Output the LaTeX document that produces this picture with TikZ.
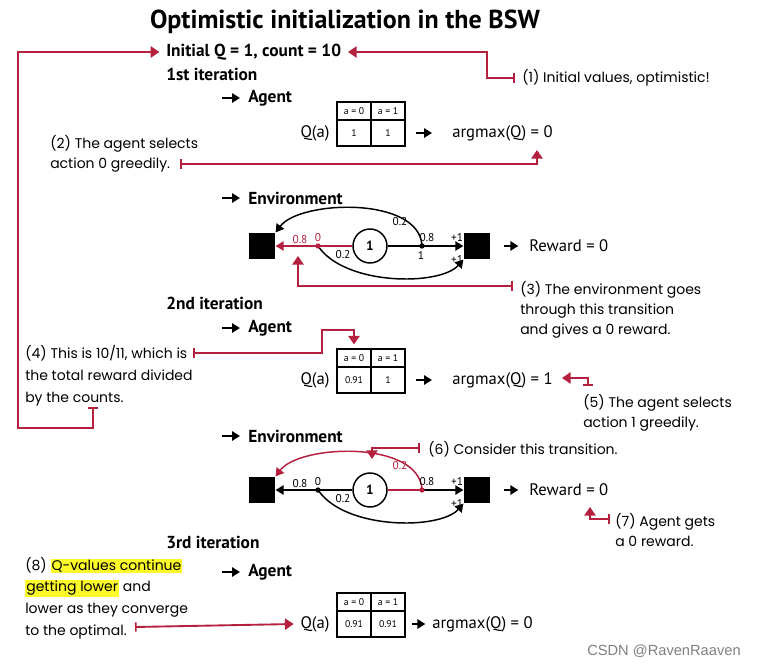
\documentclass[tikz,border=0pt]{standalone}
\usepackage{fontspec}
\setmainfont{PT Sans}
\newfontfamily\handfont{Poppins}
\newfontfamily\creditfont{Liberation Sans}
\usetikzlibrary{arrows.meta,calc}
\definecolor{callred}{RGB}{180,32,62}
\definecolor{marker}{RGB}{252,250,40}
\newcommand\marked[1]{{\setlength{\fboxsep}{0.8pt}\colorbox{marker}{#1}}}

\begin{document}
\begin{tikzpicture}[x=0.75pt,y=-0.75pt,
  title/.style={font=\bfseries\fontsize{19.5}{21}\selectfont, inner sep=0pt},
  head/.style={font=\bfseries\fontsize{13}{15}\selectfont, anchor=west, inner sep=0pt},
  plain/.style={font=\fontsize{12.5}{14}\selectfont, inner sep=0pt},
  note/.style={font=\handfont\fontsize{10.5}{15}\selectfont, align=left, anchor=north west, inner sep=0pt},
  callout/.style={draw=callred, line width=1.4pt, {Bar[width=7pt,line width=1.2pt]}-{Triangle[width=8.5pt,length=6.5pt]}},
  headarrow/.style={line width=1.5pt, -{Triangle[width=7pt,length=6pt]}},
  cell/.style={draw, line width=0.8pt, minimum width=25.5pt, inner sep=0pt, font=\fontsize{7.3}{8}\selectfont},
  hcell/.style={cell, minimum height=13.5pt},
  bcell/.style={cell, minimum height=19.5pt},
  term/.style={fill=black, minimum size=20pt, inner sep=0pt},
  state/.style={draw, circle, line width=1.1pt, minimum size=25.5pt, inner sep=0pt, font=\bfseries\fontsize{10}{10}\selectfont},
  lbl/.style={font=\fontsize{8.5}{9}\selectfont, inner sep=0.5pt},
  dot/.style={circle, fill, inner sep=0pt, minimum size=4pt},
  edge/.style={line width=1.1pt, -{Triangle[width=7pt,length=6pt]}},
  pics/qtab/.style 2 args={code={
    \node[hcell] (-h0) at (17,9) {a = 0};
    \node[hcell] (-h1) at (51,9) {a = 1};
    \node[bcell] (-b0) at (17,31) {#1};
    \node[bcell] (-b1) at (51,31) {#2};
  }}
]
\useasboundingbox (0,0) rectangle (758,668);

% ---------- headings ----------
\node[title] (title) at (345,22) {Optimistic initialization in the BSW};
\node[head] (init) at (166,52) {Initial Q = 1, count = 10};
\node[head] (it1) at (166,74) {1st iteration};
\node[head] (agent1) at (248,98) {Agent};
\node[head] (envh1) at (248,198) {Environment};
\node[head] (it2) at (166,303) {2nd iteration};
\node[head] (agent2) at (248,328) {Agent};
\node[head] (envh2) at (248,436) {Environment};
\node[head] (it3) at (166,542) {3rd iteration};
\node[head] (agent3) at (248,572) {Agent};
\foreach \h in {agent1,envh1,agent2,envh2,agent3}
  \draw[headarrow] ([xshift=-19.5pt]\h.west) -- ([xshift=-6pt]\h.west);

% ---------- agent tables ----------
\pic (t1) at (337,102) {qtab={1}{1}};
\pic (t2) at (337,349) {qtab={0.91}{1}};
\pic (t3) at (337,593) {qtab={0.91}{0.91}};
\foreach \t in {1,2,3}
  \node[plain, anchor=east] (qa\t) at ([xshift=-5pt]t\t-b0.west) {Q(a)};
\node[plain, anchor=west] (am1) at (452,133) {argmax(Q) = 0};
\node[plain, anchor=west] (am2) at (452,380) {argmax(Q) = 1};
\node[plain, anchor=west] (am3) at (432,624) {argmax(Q) = 0};
\draw[headarrow, shorten <=7.5pt, shorten >=15pt] (t1-b1.east) -- (am1.west);
\draw[headarrow, shorten <=7.5pt, shorten >=15pt] (t2-b1.east) -- (am2.west);
\draw[headarrow, shorten <=4.5pt, shorten >=5pt] (t3-b1.east) -- (am3.west);

% ---------- environment, 1st iteration ----------
\node[term] (sqL1) at (262,246) {};
\node[term] (sqR1) at (477,246) {};
\node[state] (s1) at (370,246) {1};
\coordinate (dL1) at (318,246);
\coordinate (dR1) at (422,246);
\draw[edge, callred] (s1) -- (sqL1);
\draw[edge] (s1) -- (sqR1);
\draw[edge] (dR1) .. controls (420,196) and (300,200) .. (sqL1.north east);
\draw[edge] (dL1) .. controls (345,286) and (440,286) .. (sqR1.south west);
\node[dot, callred] (pL1) at (dL1) {};
\node[dot] (pR1) at (dR1) {};
\node[lbl, callred] (l1a) at (300,240) {0.8};
\node[lbl, callred] (l1b) at (318,238) {0};
\node[lbl] (l1c) at (343,255) {0.2};
\node[lbl] (l1d) at (427,238) {0.8};
\node[lbl] (l1e) at (421,255) {1};
\node[lbl] (l1f) at (400,222) {0.2};
\node[lbl] (l1g) at (457,237) {+1};
\node[lbl] (l1h) at (457,259) {+1};
\node[plain, anchor=west] (rw1) at (529,246) {Reward = 0};
\draw[headarrow, shorten <=10pt, shorten >=8pt] (sqR1.east) -- (rw1.west);

% ---------- environment, 2nd iteration ----------
\node[term] (sqL2) at (262,490) {};
\node[term] (sqR2) at (477,490) {};
\node[state] (s2) at (370,490) {1};
\coordinate (dL2) at (318,490);
\coordinate (dR2) at (422,490);
\draw[edge] (s2) -- (sqL2);
\draw[line width=1.1pt, callred] (s2) -- (dR2);
\draw[edge] (dR2) -- (sqR2);
\draw[edge, callred] (dR2) .. controls (420,440) and (300,444) .. (sqL2.north east);
\draw[edge] (dL2) .. controls (345,530) and (440,530) .. (sqR2.south west);
\node[dot] (pL2) at (dL2) {};
\node[dot, callred] (pR2) at (dR2) {};
\node[lbl] (l2a) at (300,484) {0.8};
\node[lbl] (l2b) at (318,482) {0};
\node[lbl] (l2c) at (343,499) {0.2};
\node[lbl] (l2d) at (427,482) {0.8};
\node[lbl, callred] (l2f) at (400,466) {0.2};
\node[lbl] (l2g) at (457,481) {+1};
\node[lbl] (l2h) at (457,503) {+1};
\node[plain, anchor=west] (rw2) at (529,490) {Reward = 0};
\draw[headarrow, shorten <=10pt, shorten >=8pt] (sqR2.east) -- (rw2.west);

% ---------- annotations ----------
\node[note, anchor=west] (n1) at (522,78) {(1) Initial values, optimistic!};
\node[note] (n2) at (50,135) {(2) The agent selects\\action 0 greedily.};
\node[note] (n3) at (520,281) {(3) The environment goes\\through this transition\\and gives a 0 reward.};
\node[note, font=\handfont\fontsize{10.5}{16.5}\selectfont] (n4) at (25,345) {(4) This is 10/11, which is\\the total reward divided\\by the counts.};
\node[note] (n5) at (583,394) {(5) The agent selects\\action 1 greedily.};
\node[note, anchor=west] (n6) at (428,449) {(6) Consider this transition.};
\node[note] (n7) at (615,513) {(7) Agent gets\\a 0 reward.};
\node[note, font=\handfont\fontsize{10.5}{16.2}\selectfont] (n8) at (25,557)
  {(8) \marked{Q-values continue}\\\marked{getting lower} and\\lower as they converge\\to the optimal.};

% ---------- callout arrows ----------
\coordinate (c1) at (515,78);
\coordinate (k1) at (487,52);
\draw[callout] (c1) -| (k1) -- ([xshift=5pt]init.east);

\coordinate (c2) at (180,164);
\coordinate (tip2) at (537,150);
\draw[callout] (c2) -| (tip2);

\coordinate (c3) at (513,286);
\coordinate (tip3) at (298,256);
\draw[callout] (c3) -| (tip3);

\coordinate (c4a) at (193,353);
\coordinate (k4a) at (322,330);
\draw[callout] (c4a) -| (k4a) -| ([yshift=3pt]t2-h0.north);
\coordinate (c4b) at (93,407);
\coordinate (k4b) at (18,428);
\draw[callout] (c4b) |- (k4b) |- ([xshift=-5pt]init.west);

\coordinate (c5) at (588,386);
\coordinate (tip5) at (562,378);
\draw[callout] (c5) |- (tip5);

\coordinate (c6) at (420,448);
\coordinate (tip6) at (372,459);
\draw[callout] (c6) -| (tip6);

\coordinate (c7) at (610,519);
\coordinate (tip7) at (590,507);
\draw[callout] (c7) -| (tip7);

\coordinate (c8) at (135,627);
\draw[callout] (c8) -- ([xshift=-5pt]qa3.west);

% ---------- credit ----------
\node[font=\creditfont\fontsize{11}{12}\selectfont, text=black!50, inner sep=0pt] (credit) at (664,651) {CSDN @RavenRaaven};
\end{tikzpicture}
\end{document}
